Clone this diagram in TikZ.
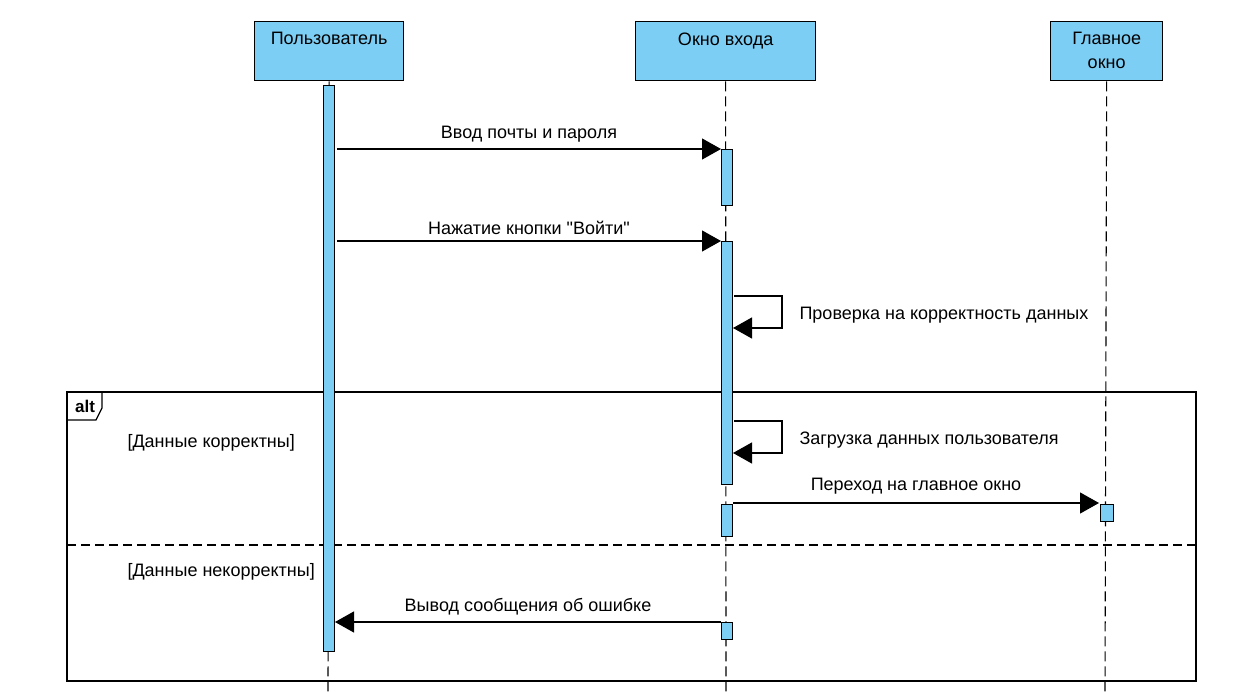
\documentclass[tikz,border=0pt]{standalone}
\usepackage{fontspec}
\setmainfont{Liberation Sans}[Ligatures=TeXOff]
\usetikzlibrary{arrows.meta}
\definecolor{actfill}{RGB}{124,206,244}
\begin{document}
\begin{tikzpicture}[x=1pt,y=-1pt,
  font=\fontsize{18}{24}\selectfont,
  head/.style={draw, line width=1.3pt, fill=actfill, anchor=north west, inner sep=0pt},
  act/.style={draw, line width=1.2pt, fill=actfill, anchor=north west, inner sep=0pt, minimum width=11pt},
  life/.style={line width=1.1pt, dash pattern=on 10pt off 5pt},
  msg/.style={line width=1.2pt, -{Triangle[length=19pt,width=21pt]}},
  lbl/.style={midway, above=5pt, inner sep=1pt}]
\useasboundingbox (0,0) rectangle (1242,692);

% lifeline heads
\node[head, minimum width=149pt, minimum height=59pt] (hu) at (254,21) {};
\node[anchor=north] (tu) at (hu.north) [yshift=-8pt] {Пользователь};
\node[head, minimum width=180pt, minimum height=59pt] (hw) at (635,21) {};
\node[anchor=north] (tw) at (hw.north) [yshift=-8pt] {Окно входа};
\node[head, minimum width=112pt, minimum height=59pt] (hm) at (1050,21) {};
\node[anchor=north, align=center] (tm) at (hm.north) [yshift=-8pt] {Главное\\окно};

% lifelines
\coordinate (uend) at (328,692);
\coordinate (wend) at (726,692);
\coordinate (mend) at (1105,692);
\draw[life] (hu.south) -- (uend);
\draw[life] (hw.south) -- (wend);
\draw[life] (hm.south) -- (mend);

% combined fragment
\draw[line width=1.3pt] (67,392) rectangle (1196,681);
\draw[line width=1.3pt] (67,420) -- (96,420) -- (102,408) -- (102,392);
\node[font=\fontsize{17}{20}\selectfont\bfseries] (alt) at (85,406) {alt};
\draw[line width=1.1pt, dash pattern=on 9pt off 5pt] (67,545) -- (1196,545);
\node[anchor=west] (g1) at (124,443) {[Данные корректны]};
\node[anchor=west] (g2) at (124,572) {[Данные некорректны]};

% activations
\node[act, minimum height=566pt] (ua) at (323,85) {};
\node[act, minimum height=56pt] (wa1) at (721,149) {};
\node[act, minimum height=243pt] (wa2) at (721,241) {};
\node[act, minimum height=32pt] (wa3) at (721,504) {};
\node[act, minimum height=17pt] (wa4) at (721,622) {};
\node[act, minimum width=13pt, minimum height=17pt] (ma1) at (1100,504) {};

% messages
\coordinate (m1s) at (337,149);
\draw[msg] (m1s) -- (wa1.north west) node[lbl] {Ввод почты и пароля};
\coordinate (m2s) at (337,241);
\draw[msg] (m2s) -- (wa2.north west) node[lbl] {Нажатие кнопки "Войти"};

\coordinate (s1a) at (734,296);
\coordinate (s1b) at (782,296);
\coordinate (s1c) at (782,328);
\coordinate (s1d) at (733,328);
\draw[msg] (s1a) -- (s1b) -- (s1c) -- (s1d);
\node[anchor=west] (s1l) at (796,315) {Проверка на корректность данных};

\coordinate (s2a) at (734,421);
\coordinate (s2b) at (782,421);
\coordinate (s2c) at (782,453);
\coordinate (s2d) at (733,453);
\draw[msg] (s2a) -- (s2b) -- (s2c) -- (s2d);
\node[anchor=west] (s2l) at (796,440) {Загрузка данных пользователя};

\coordinate (m3s) at (733,503);
\coordinate (m3e) at (1099,503);
\draw[msg] (m3s) -- (m3e) node[lbl, above=2pt] {Переход на главное окно};

\coordinate (m4s) at (721,622);
\coordinate (m4e) at (335,622);
\draw[msg] (m4s) -- (m4e) node[lbl] {Вывод сообщения об ошибке};
\end{tikzpicture}
\end{document}
